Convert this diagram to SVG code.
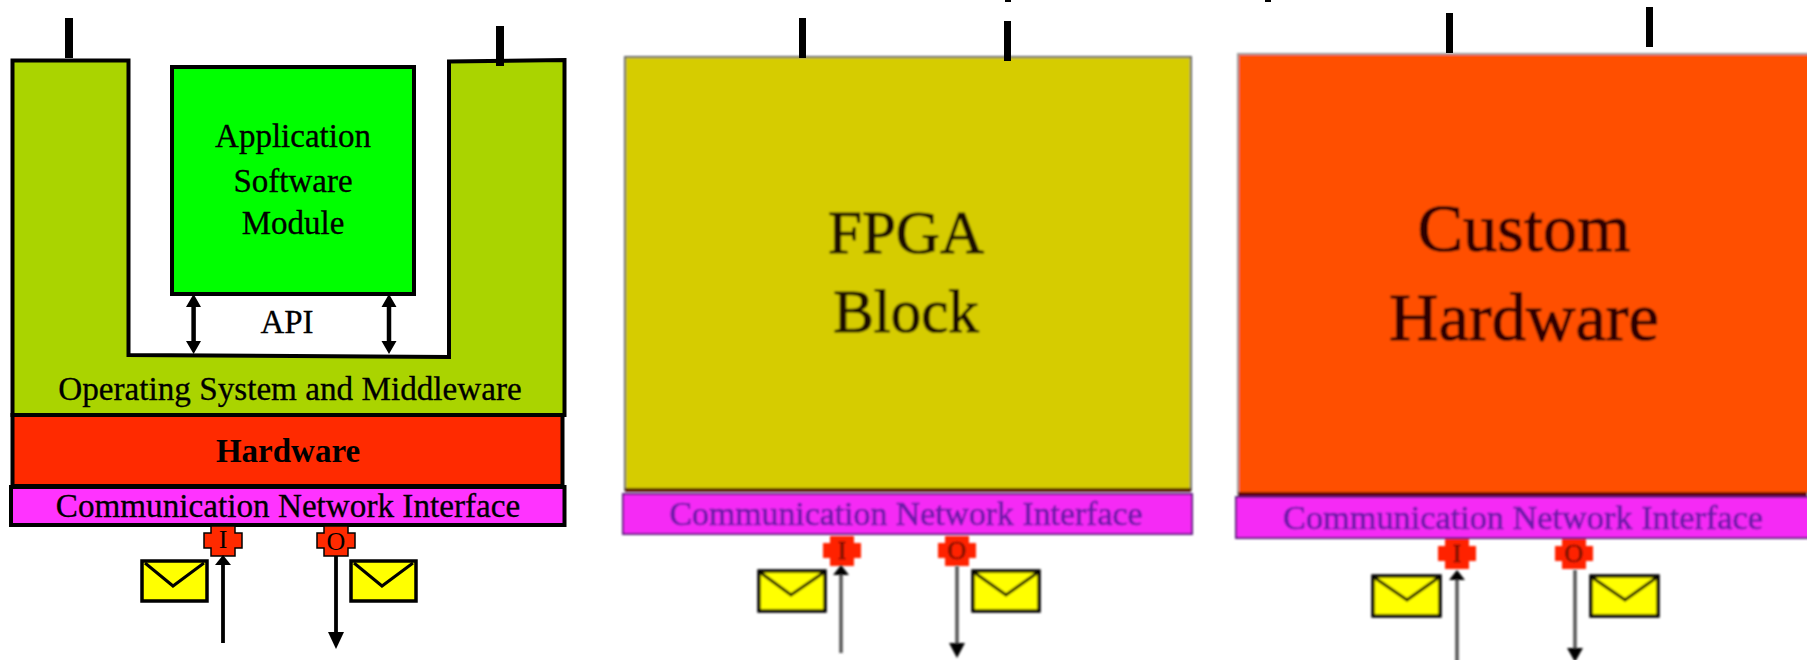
<svg xmlns="http://www.w3.org/2000/svg" width="1807" height="660" viewBox="0 0 1807 660">
<style>
text{font-family:"Liberation Serif","Times New Roman",serif;text-anchor:middle;fill:#000}
.sharp{stroke:#000;stroke-width:4;stroke-linejoin:miter}
.cni{fill:#ff33ff}
.env{fill:#ffff00;stroke:#000;stroke-width:3.500}
.fold{fill:none;stroke:#000;stroke-width:3}
.port{fill:#ff2a00;stroke:#000;stroke-width:1.500}
.tick{fill:#000}
.shaft{stroke:#000;stroke-width:3.800;fill:none}
.apishaft{stroke:#000;stroke-width:4.500;fill:none}
.gshaft{stroke:#555;stroke-width:3.500;fill:none}
.big-y{fill:#1a1000;stroke:#1a1000;stroke-width:1}
.big-o{fill:#2e0400;stroke:#2e0400;stroke-width:1}
.cnit{fill:#6a1ea8;stroke:#6a1ea8;stroke-width:.7}
.pt{fill:#701000;stroke:#701000;stroke-width:.5}
.hv{stroke:#000;stroke-width:.3}
</style>
<defs>
<filter id="blur" x="-5%" y="-5%" width="110%" height="110%"><feGaussianBlur stdDeviation="0.9"/></filter>
<path id="portShape" d="M-12-15H12V-8H19V7H12V15H-12V7H-19V-8H-12Z"/>
</defs>

<g id="panel-software">
<g id="os-middleware"><path class="sharp" fill="#aad400" d="M12.500 60.500H128.500V355L449 357V61.500L564.500 60V415H12.500Z"/><text class="hv" x="290" y="400" font-size="33.200">Operating System and Middleware</text></g>
<g id="application"><rect class="sharp" x="172" y="67" width="242" height="227" fill="#00ff00"/><text class="hv" x="293" y="147" font-size="33">Application</text><text class="hv" x="293" y="192" font-size="33">Software</text><text class="hv" x="293" y="234" font-size="33">Module</text></g>
<g id="api"><text class="hv" x="287" y="333" font-size="33">API</text></g>
<g id="hardware"><rect class="sharp" x="12.500" y="415" width="550" height="71" fill="#ff2a00"/><text x="288" y="462" font-size="33" font-weight="bold">Hardware</text></g>
<g id="cni-1"><rect class="sharp cni" x="11" y="487" width="553.500" height="38"/><text class="hv" x="288" y="517" font-size="33.200">Communication Network Interface</text></g>
<g id="port-i-1"><use href="#portShape" class="port" transform="translate(223 541)"/><text x="223" y="548" font-size="26">I</text></g>
<g id="port-o-1"><use href="#portShape" class="port" transform="translate(336 541)"/><text x="336" y="550" font-size="26">O</text></g>
<g id="env-1a"><rect class="env" x="142" y="561" width="65" height="40"/><path class="fold" d="M145 563L173 586L204 563"/></g>
<g id="env-1b"><rect class="env" x="351" y="561" width="65" height="40"/><path class="fold" d="M354 563L382 586L413 563"/></g>
</g>

<g id="panel-fpga" filter="url(#blur)">
<g id="fpga"><rect x="625" y="57" width="566" height="433" fill="#d6cc06" stroke="#666" stroke-width="2"/><path d="M625 490H1191" stroke="#5a1a00" stroke-width="4"/><text class="big-y" x="906" y="253" font-size="61">FPGA</text><text class="big-y" x="906" y="332" font-size="61">Block</text></g>
<g id="cni-2"><rect x="623" y="494" width="569" height="40" fill="#f52cf5" stroke="#5a1a80" stroke-width="2"/><text class="cnit" x="906" y="525" font-size="33.800">Communication Network Interface</text></g>
<g id="port-i-2"><use href="#portShape" fill="#ff2200" transform="translate(842 551)"/><text class="pt" x="842" y="559" font-size="26">I</text></g>
<g id="port-o-2"><use href="#portShape" fill="#ff2200" transform="translate(957 551)"/><text class="pt" x="957" y="559" font-size="26">O</text></g>
<g id="env-2a"><rect class="env" x="759" y="571" width="66" height="40"/><path class="fold" d="M761 573L791 595L823 573"/></g>
<g id="env-2b"><rect class="env" x="973" y="571" width="66" height="40"/><path class="fold" d="M975 573L1006 595L1037 573"/></g>
</g>

<g id="panel-custom" filter="url(#blur)">
<g id="custom"><rect x="1238" y="54" width="580" height="440" fill="#ff5000" stroke="#999" stroke-width="2"/><path d="M1238 494H1807" stroke="#600000" stroke-width="4"/><text class="big-o" x="1524" y="251" font-size="68.500">Custom</text><text class="big-o" x="1524" y="340" font-size="68.500">Hardware</text></g>
<g id="cni-3"><rect x="1236" y="497" width="590" height="41" fill="#f52cf5" stroke="#5a1a80" stroke-width="2"/><text class="cnit" x="1523" y="529" font-size="34.300">Communication Network Interface</text></g>
<g id="port-i-3"><use href="#portShape" fill="#ff2200" transform="translate(1457 554)"/><text class="pt" x="1457" y="562" font-size="26">I</text></g>
<g id="port-o-3"><use href="#portShape" fill="#ff2200" transform="translate(1574 554)"/><text class="pt" x="1574" y="562" font-size="26">O</text></g>
<g id="env-3a"><rect class="env" x="1373" y="576" width="67" height="40"/><path class="fold" d="M1375 578L1407 600L1438 578"/></g>
<g id="env-3b"><rect class="env" x="1591" y="576" width="67" height="40"/><path class="fold" d="M1593 578L1625 600L1656 578"/></g>
</g>

<g id="connectors">
<g id="ticks">
<rect class="tick" x="65" y="18" width="8" height="40"/><rect class="tick" x="496" y="26" width="8" height="40"/>
<rect class="tick" x="799" y="18" width="7" height="40"/><rect class="tick" x="1004" y="21" width="7" height="40"/>
<rect class="tick" x="1005" y="0" width="6" height="2"/><rect class="tick" x="1265" y="0" width="6" height="2"/>
<rect class="tick" x="1446" y="13" width="7" height="40"/><rect class="tick" x="1646" y="7" width="7" height="40"/>
</g>
<path class="apishaft" d="M193.600 306V342"/>
<path class="apishaft" d="M389 306V342"/>
<path d="M193.600 294L201 307H186Z M193.600 354L201 341H186Z M389 294L396.500 307H381.500Z M389 354L396.500 341H381.500Z" fill="#000"/>
<path class="shaft" d="M223 643V563"/><path d="M223 555L231 565H215Z" fill="#000"/>
<path class="shaft" d="M336 556V634"/><path d="M336 649L344 632H328Z" fill="#000"/>
<g filter="url(#blur)">
<path class="gshaft" d="M841 653V572"/><path d="M841 565L849 575H833Z" fill="#000"/>
<path class="gshaft" d="M957 566V645"/><path d="M957 658L965 643H949Z" fill="#000"/>
<path class="gshaft" d="M1457 662V577"/><path d="M1457 570L1465 580H1449Z" fill="#000"/>
<path class="gshaft" d="M1575 570V650"/><path d="M1575 662L1583 648H1567Z" fill="#000"/>
</g>
</g>
</svg>
